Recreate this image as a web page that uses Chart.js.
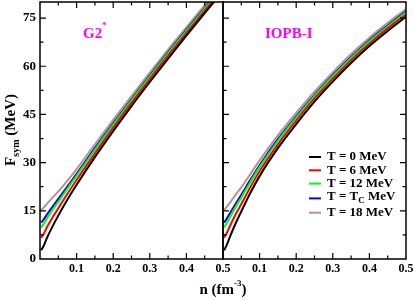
<!DOCTYPE html>
<html>
<head>
<meta charset="utf-8">
<script src="https://cdn.jsdelivr.net/npm/chart.js@4.4.1/dist/chart.umd.min.js"></script>
<style>
  html, body { margin: 0; padding: 0; background: #fff; }
  #wrap { position: relative; width: 415px; height: 300px; }
  #wrap canvas { position: absolute; left: 0; top: 0; }
</style>
</head>
<body>
<div id="wrap">
  <canvas id="leftChart" width="415" height="300"></canvas>
  <canvas id="rightChart" width="415" height="300"></canvas>
</div>
<script>
// densite n (fm^-3)
const density = [0.003, 0.01, 0.02, 0.035, 0.05, 0.075, 0.1, 0.15, 0.2, 0.25, 0.3, 0.35, 0.4, 0.45, 0.5];

// G2* : F_sym (MeV)
const g2T0   = [2.7, 4.1, 6.8, 10.3, 13.5, 18.5, 23.1, 31.7, 39.8, 47.6, 55.1, 62.4, 69.5, 76.5, 83.4];
const g2T6   = [6.6, 7.8, 10.1, 13.1, 15.8, 20.3, 24.6, 32.9, 40.9, 48.6, 56.0, 63.3, 70.3, 77.3, 84.1];
const g2T12  = [9.8, 10.9, 12.8, 15.4, 17.8, 21.9, 25.9, 34.0, 41.8, 49.4, 56.8, 64.0, 71.0, 77.9, 84.8];
const g2Tc   = [11.3, 12.3, 14.0, 16.4, 18.7, 22.6, 26.5, 34.5, 42.2, 49.7, 57.1, 64.3, 71.3, 78.2, 85.1];
const g2T18  = [15.2, 16.0, 17.3, 19.2, 21.0, 24.4, 28.0, 35.7, 43.3, 50.7, 58.0, 65.2, 72.1, 79.0, 85.8];

// IOPB-I : F_sym (MeV)
const iopbT0  = [2.7, 4.3, 7.2, 11.2, 14.8, 20.6, 25.8, 34.5, 42.0, 49.0, 55.2, 61.0, 66.3, 71.0, 75.4];
const iopbT6  = [6.6, 8.0, 10.5, 14.0, 17.1, 22.4, 27.3, 35.7, 43.1, 50.0, 56.1, 61.9, 67.1, 71.8, 76.1];
const iopbT12 = [9.8, 11.1, 13.2, 16.3, 19.1, 24.0, 28.6, 36.8, 44.0, 50.8, 56.9, 62.6, 67.8, 72.4, 76.8];
const iopbTc  = [11.3, 12.5, 14.4, 17.3, 20.0, 24.7, 29.2, 37.3, 44.4, 51.1, 57.2, 62.9, 68.1, 72.7, 77.1];
const iopbT18 = [15.2, 16.2, 17.7, 20.1, 22.3, 26.5, 30.7, 38.5, 45.5, 52.1, 58.1, 63.8, 68.9, 73.5, 77.8];

const legendLabels = ['T = 0 MeV', 'T = 6 MeV', 'T = 12 MeV', 'T = T_C MeV', 'T = 18 MeV'];
const lineColors = ['#000000', '#ff0000', '#00ff00', '#0000ff', '#bc8f8f'];

const xTickLabels = [0.1, 0.2, 0.3, 0.4, 0.5];
const xMajor = [0.1, 0.2, 0.3, 0.4];
const xMinor = [0.05, 0.15, 0.25, 0.35, 0.45];
const yTickLabels = [0, 15, 30, 45, 60, 75];
const yMajor = [15, 30, 45, 60, 75];
const yMinor = [7.5, 22.5, 37.5, 52.5, 67.5];

const SERIF = "'Liberation Serif', 'DejaVu Serif', serif";

function toPoints(vals) {
    return density.map((n, i) => ({ x: n, y: vals[i] }));
}

function makeDatasets(series) {
    return series.map((vals, i) => ({
        label: legendLabels[i],
        data: toPoints(vals),
        borderColor: lineColors[i],
        borderWidth: 2,
        pointRadius: 0,
        fill: false,
        cubicInterpolationMode: 'monotone'
    }));
}

// cadre + graduations vers l'interieur
const frameTicks = {
    id: 'frameTicks',
    afterDatasetsDraw(chart, args, opts) {
        const { ctx, chartArea: a, scales: { x, y } } = chart;
        ctx.save();
        ctx.strokeStyle = '#000';
        ctx.lineWidth = 1.5;
        ctx.strokeRect(a.left, a.top, a.right - a.left, a.bottom - a.top);
        ctx.lineWidth = 1.2;
        ctx.beginPath();
        const xt = (vals, len) => vals.forEach(v => {
            const px = x.getPixelForValue(v);
            ctx.moveTo(px, a.bottom); ctx.lineTo(px, a.bottom - len);
            ctx.moveTo(px, a.top); ctx.lineTo(px, a.top + len);
        });
        const yt = (vals, len) => vals.forEach(v => {
            const py = y.getPixelForValue(v);
            ctx.moveTo(a.left, py); ctx.lineTo(a.left + len, py);
            if (opts.right) { ctx.moveTo(a.right, py); ctx.lineTo(a.right - len, py); }
        });
        xt(xMajor, 6); xt(xMinor, 3.5);
        yt(yMajor, 6); yt(yMinor, 3.5);
        ctx.stroke();
        ctx.restore();
    }
};

// textes : titres d'axes, noms des modeles, legende
const annotations = {
    id: 'annotations',
    afterDraw(chart, args, opts) {
        const ctx = chart.ctx;
        ctx.save();
        ctx.textBaseline = 'alphabetic';
        ctx.fillStyle = '#ff00ff';
        ctx.font = 'bold 15px ' + SERIF;
        ctx.textAlign = 'left';
        if (opts.model === 'G2') {
            ctx.fillText('G2', 83, 38);
            ctx.font = 'bold 9px ' + SERIF;
            ctx.fillText('*', 102, 28);
        } else {
            ctx.fillText('IOPB-I', 265, 38);
        }
        ctx.fillStyle = '#000';
        if (opts.titles) {
            // titre axe y
            ctx.save();
            ctx.translate(15, 130);
            ctx.rotate(-Math.PI / 2);
            const big = 'bold 15px ' + SERIF, small = 'bold 10px ' + SERIF;
            ctx.font = big; const wF = ctx.measureText('F').width;
            ctx.font = small; const wS = ctx.measureText('sym').width;
            ctx.font = big; const wM = ctx.measureText(' (MeV)').width;
            let sx = -(wF + wS + wM) / 2;
            ctx.fillText('F', sx, 0); sx += wF;
            ctx.font = small; ctx.fillText('sym', sx, 4); sx += wS;
            ctx.font = big; ctx.fillText(' (MeV)', sx, 0);
            ctx.restore();
            // titre axe x
            ctx.font = 'bold 15px ' + SERIF;
            const w1 = ctx.measureText('n (fm').width;
            ctx.font = 'bold 9px ' + SERIF;
            const w2 = ctx.measureText('-3').width;
            ctx.font = 'bold 15px ' + SERIF;
            const w3 = ctx.measureText(')').width;
            let tx = 223 - (w1 + w2 + w3) / 2;
            ctx.fillText('n (fm', tx, 294); tx += w1;
            ctx.font = 'bold 9px ' + SERIF; ctx.fillText('-3', tx, 286); tx += w2;
            ctx.font = 'bold 15px ' + SERIF; ctx.fillText(')', tx, 294);
        }
        if (opts.legend) {
            legendLabels.forEach((lab, i) => {
                const cy = 157 + i * 13.3 + (i >= 4 ? 2.5 : 0);
                ctx.strokeStyle = lineColors[i];
                ctx.lineWidth = 2;
                ctx.beginPath();
                ctx.moveTo(309, cy + (i === 3 ? 1.5 : 0));
                ctx.lineTo(321, cy + (i === 3 ? 1.5 : 0));
                ctx.stroke();
                ctx.font = 'bold 13px ' + SERIF;
                ctx.textBaseline = 'middle';
                if (lab.indexOf('_') >= 0) {
                    const parts = lab.split('_');
                    const head = parts[0];
                    const sub = parts[1].charAt(0);
                    const tail = parts[1].slice(1);
                    let lx = 327;
                    ctx.fillText(head, lx, cy); lx += ctx.measureText(head).width;
                    ctx.font = 'bold 9px ' + SERIF;
                    ctx.fillText(sub, lx, cy + 4); lx += ctx.measureText(sub).width;
                    ctx.font = 'bold 13px ' + SERIF;
                    ctx.fillText(tail, lx, cy);
                } else {
                    ctx.fillText(lab, 327, cy);
                }
            });
        }
        ctx.restore();
    }
};

function xScale() {
    return {
        type: 'linear',
        min: 0,
        max: 0.5,
        grid: { display: false, drawTicks: false },
        border: { display: false },
        afterBuildTicks: s => { s.ticks = xTickLabels.map(v => ({ value: v })); },
        afterFit: s => { s.height = 41; s.paddingLeft = 0; s.paddingRight = 0; },
        ticks: {
            color: '#000',
            padding: 3,
            maxRotation: 0,
            font: { family: SERIF, size: 12, weight: 'bold' },
            callback: v => v.toFixed(1)
        }
    };
}

function yScale(show) {
    return {
        type: 'linear',
        min: 0,
        max: 80,
        display: show,
        grid: { display: false, drawTicks: false },
        border: { display: false },
        afterBuildTicks: s => { s.ticks = yTickLabels.map(v => ({ value: v })); },
        afterFit: s => { s.width = show ? 40 : 0; s.paddingTop = 0; s.paddingBottom = 0; },
        ticks: {
            color: '#000',
            padding: 4,
            font: { family: SERIF, size: 13, weight: 'bold' }
        }
    };
}

function baseOptions(padding, showY, annot, right) {
    return {
        responsive: false,
        animation: false,
        layout: { padding: padding },
        plugins: {
            legend: { display: false },
            tooltip: { enabled: false },
            frameTicks: { right: right },
            annotations: annot
        },
        scales: { x: xScale(), y: yScale(showY) }
    };
}

document.addEventListener('DOMContentLoaded', function() {
    new Chart(document.getElementById('leftChart'), {
        type: 'line',
        data: { datasets: makeDatasets([g2T0, g2T6, g2T12, g2Tc, g2T18]) },
        options: baseOptions({ left: 0, right: 192, top: 2, bottom: 0 }, true,
            { model: 'G2', titles: true, legend: false }, false),
        plugins: [frameTicks, annotations]
    });

    new Chart(document.getElementById('rightChart'), {
        type: 'line',
        data: { datasets: makeDatasets([iopbT0, iopbT6, iopbT12, iopbTc, iopbT18]) },
        options: baseOptions({ left: 223, right: 9, top: 2, bottom: 0 }, false,
            { model: 'IOPB', titles: false, legend: true }, true),
        plugins: [frameTicks, annotations]
    });
});
</script>
</body>
</html>
